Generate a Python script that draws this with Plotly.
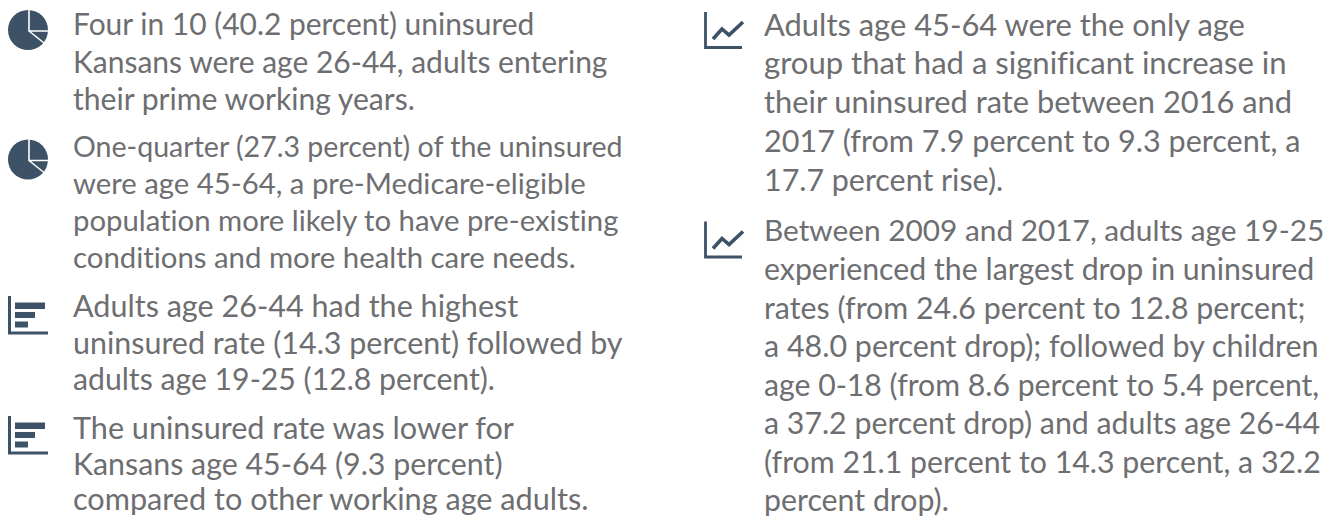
import plotly.graph_objects as go

FONT = "Lato"
TEXT_COLOR = "#6d6e71"
ICON_COLOR = "#3d5266"

left_lines = [
    "Four in 10 (40.2 percent) uninsured",
    "Kansans were age 26-44, adults entering",
    "their prime working years.",
    "One-quarter (27.3 percent) of the uninsured",
    "were age 45-64, a pre-Medicare-eligible",
    "population more likely to have pre-existing",
    "conditions and more health care needs.",
    "Adults age 26-44 had the highest",
    "uninsured rate (14.3 percent) followed by",
    "adults age 19-25 (12.8 percent).",
    "The uninsured rate was lower for",
    "Kansans age 45-64 (9.3 percent)",
    "compared to other working age adults.",
]
left_y = [23.4, 61, 97.5, 146, 182.5, 219, 256, 305, 341.7, 378.4, 427, 463.4, 498]
left_size = [29.95, 30, 30.1, 28.55, 29.3, 29.3, 29.35, 30.55, 30.45, 30.2, 30.6, 30.35, 30.65]

right_lines = [
    "Adults age 45-64 were the only age",
    "group that had a significant increase in",
    "their uninsured rate between 2016 and",
    "2017 (from 7.9 percent to 9.3 percent, a",
    "17.7 percent rise).",
    "Between 2009 and 2017, adults age 19-25",
    "experienced the largest drop in uninsured",
    "rates (from 24.6 percent to 12.8 percent;",
    "a 48.0 percent drop); followed by children",
    "age 0-18 (from 8.6 percent to 5.4 percent,",
    "a 37.2 percent drop) and adults age 26-44",
    "(from 21.1 percent to 14.3 percent, a 32.2",
    "percent drop).",
]
right_y = [24, 62.3, 101, 140, 179, 229, 267.6, 307, 345, 383.6, 422, 461, 498.5]
right_size = [30.9, 31.05, 30.8, 30.55, 30.4, 29.8, 30.3, 30.35, 30.45, 30.2, 30.3, 30.3, 30.3]

LEFT_X = 71.5
RIGHT_X = 763

fig = go.Figure()
ann = []
for lines, ys, sizes, x in ((left_lines, left_y, left_size, LEFT_X), (right_lines, right_y, right_size, RIGHT_X)):
    for t, y, s in zip(lines, ys, sizes):
        ann.append(dict(x=x, y=y, text=t, xref="x", yref="y", xanchor="left", yanchor="middle",
                        showarrow=False, align="left", borderpad=0,
                        font=dict(family=FONT, size=s, color=TEXT_COLOR)))

shapes = []

def pie(cy):
    cx = 28
    shapes.append(dict(type="circle", x0=cx-20, x1=cx+20, y0=cy-20, y1=cy+20,
                       fillcolor=ICON_COLOR, line_width=0, layer="below"))
    path = f"M {cx+1} {cy-21} L {cx+1} {cy+1} L {cx+21} {cy+1} M {cx+1} {cy+1} L {cx+16} {cy+13}"
    shapes.append(dict(type="path", path=path, line=dict(color="white", width=1.6)))

def bars(top):
    shapes.append(dict(type="path",
                       path=f"M 9.5 {top} L 9.5 {top+37} L 48 {top+37}",
                       line=dict(color=ICON_COLOR, width=3)))
    for dy0, dy1, x1 in ((6.5, 13, 45), (16, 22, 35), (25.5, 31.5, 28)):
        shapes.append(dict(type="rect", x0=15, x1=x1, y0=top+dy0, y1=top+dy1,
                           fillcolor=ICON_COLOR, line_width=0))

def trend(top):
    shapes.append(dict(type="path",
                       path=f"M 705.5 {top} L 705.5 {top+35.5} L 742 {top+35.5}",
                       line=dict(color=ICON_COLOR, width=2.8)))
    shapes.append(dict(type="path",
                       path=f"M 713 {top+27} L 722 {top+17} L 729 {top+23} L 743 {top+10}",
                       line=dict(color=ICON_COLOR, width=3.6)))

pie(30)
pie(159.5)
bars(296)
bars(416)
trend(12)
trend(221.5)

fig.update_layout(
    width=1334, height=516, margin=dict(l=0, r=0, t=0, b=0),
    paper_bgcolor="white", plot_bgcolor="white", showlegend=False,
    xaxis=dict(range=[0, 1334], visible=False, fixedrange=True),
    yaxis=dict(range=[516, 0], visible=False, fixedrange=True),
    annotations=ann, shapes=shapes,
)
post = ("document.body.style.margin='0';document.body.style.overflow='hidden';"
        "var s=document.createElement('style');"
        "s.textContent='text{font-variant-ligatures:none !important}';"
        "document.head.appendChild(s);")
fig.write_html("out.html", config=dict(displayModeBar=False), post_script=post)
